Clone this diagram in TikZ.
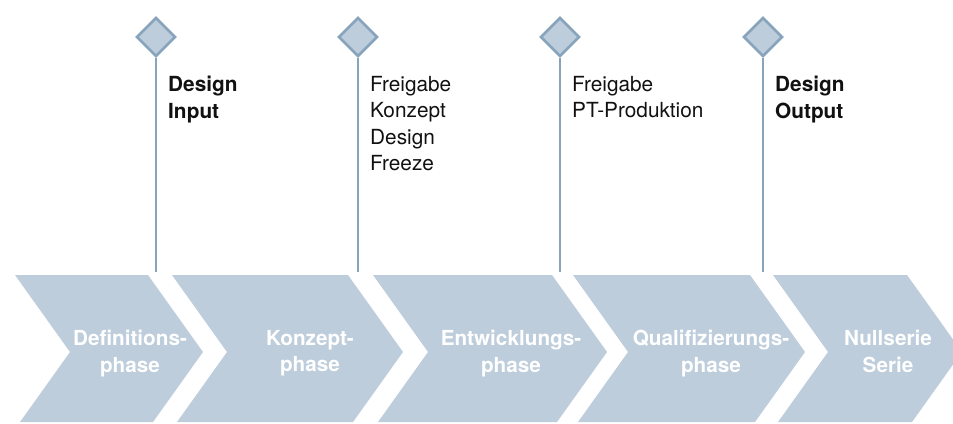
\documentclass[tikz,border=0pt]{standalone}
\usepackage{fontspec}
\setmainfont{TeX Gyre Heros}
\usetikzlibrary{shapes.geometric}

\definecolor{phasefill}{HTML}{BDCDDB}
\definecolor{msline}{HTML}{87A4BC}
\definecolor{mstextcol}{HTML}{111111}

\tikzset{
  phase/.style={anchor=north,align=center,inner sep=0pt,text=white,
    font=\fontsize{20.7}{26.5}\selectfont\bfseries},
  ms/.style={diamond,draw=msline,fill=phasefill,line width=2.6pt,
    minimum width=39pt,minimum height=39pt,inner sep=0pt},
  stem/.style={draw=msline,line width=2.6pt},
  mstext/.style={anchor=north west,align=left,inner sep=0pt,text=mstextcol,
    font=\fontsize{20.8}{26.5}\selectfont}
}

\begin{document}
\begin{tikzpicture}[x=1pt,y=-1pt]
  \clip (0,0) rectangle (953,423);

  % Phasen
  \foreach \l/\r in {15/148, 172/348, 373/552, 573/750, 773/907}
    \fill[phasefill] (\l,275) -- (\r,275) -- (\r+55,352) -- (\r+5,422)
      -- (\l+5,422) -- (\l+55,352) -- cycle;

  \node[phase] (def) at (130,330) {Definitions-\\phase};
  \node[phase] (kon) at (310,330) {Konzept-\\phase};
  \node[phase] (ent) at (511,330) {Entwicklungs-\\phase};
  \node[phase] (qua) at (711,330) {Qualifizierungs-\\phase};
  \node[phase] (ser) at (888,330) {Nullserie\\Serie};

  % Meilensteine
  \foreach \n/\x in {din/156, fko/358, fpt/560, dout/763} {
    \coordinate (\n-end) at (\x,272);
    \node[ms] (\n) at (\x,37) {};
    \draw[stem] (\n.south) -- (\n-end);
  }

  \node[mstext,font=\fontsize{20.8}{26.5}\selectfont\bfseries] (din-txt) at (168,76) {Design\\Input};
  \node[mstext] (fko-txt) at (370,76) {Freigabe\\Konzept\\Design\\Freeze};
  \node[mstext] (fpt-txt) at (572,76) {Freigabe\\PT-Produktion};
  \node[mstext,font=\fontsize{20.8}{26.5}\selectfont\bfseries] (dout-txt) at (775,76) {Design\\Output};

\end{tikzpicture}
\end{document}
